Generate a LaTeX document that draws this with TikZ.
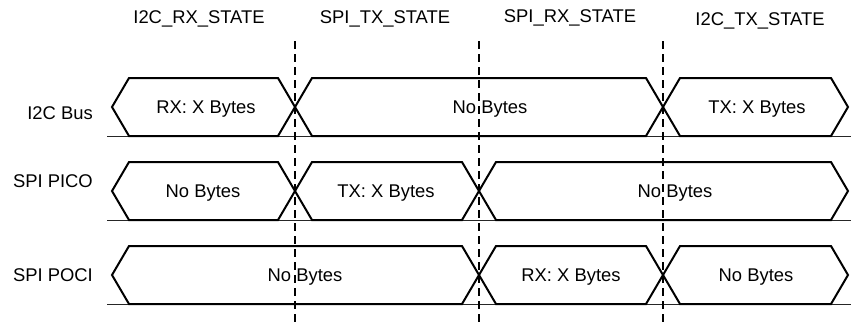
\documentclass[tikz,border=0pt]{standalone}
\usepackage{fontspec}
\setmainfont{Liberation Sans}
\usetikzlibrary{calc}

\begin{document}
\begin{tikzpicture}[x=1pt,y=-1pt,
    sig/.style={line width=2pt, line join=miter},
    base/.style={line width=0.9pt, black!85},
    divider/.style={line width=1.2pt, dash pattern=on 8pt off 5pt},
    lbl/.style={font=\fontsize{18.4}{21}\selectfont, inner sep=0pt}]
        \def\h{29}
        \def\t{17}
        \useasboundingbox (0,0) rectangle (851,322);
        % State names
        \node[lbl] (rxi2c) at (199,19) {I2C\_RX\_STATE};
        \node[lbl] (txspi) at (385,19) {SPI\_TX\_STATE};
        \node[lbl] (rxspi) at (570,18) {SPI\_RX\_STATE};
        \node[lbl] (txi2c) at (760,21) {I2C\_TX\_STATE};
        % Signal names
        \node[lbl, anchor=east] (i2cbus) at (93,113) {I2C Bus};
        \node[lbl, anchor=east] (pico) at (93,181) {SPI PICO};
        \node[lbl, anchor=east] (poci) at (93,275) {SPI POCI};
        % Baselines
        \foreach \yy in {107,191,275}
            \draw[base] (107,\yy+\h) -- (851,\yy+\h);
        % Bus segments (name/start/end/row/text x/text)
        \foreach \nm/\xa/\xb/\yy/\xt/\txt in {
            i2ca/112/295/107/206/RX: X Bytes, i2cb/295/663/107/490/No Bytes, i2cc/663/848/107/757/TX: X Bytes,
            picoa/112/295/191/203/No Bytes, picob/295/479/191/386/TX: X Bytes, picoc/479/848/191/675/No Bytes,
            pocia/112/479/275/305/No Bytes, pocib/479/663/275/571/RX: X Bytes, pocic/663/848/275/756/No Bytes}{
            \draw[sig] (\xa,\yy) -- (\xa+\t,\yy-\h) -- (\xb-\t,\yy-\h) -- (\xb,\yy)
                -- (\xb-\t,\yy+\h) -- (\xa+\t,\yy+\h) -- cycle;
            \node[lbl] (\nm) at (\xt,\yy+2) {\txt};
        }
        % State borders
        \foreach \xx in {295,479,663}
            \draw[divider] (\xx,41) -- (\xx,322);
\end{tikzpicture}
\end{document}
